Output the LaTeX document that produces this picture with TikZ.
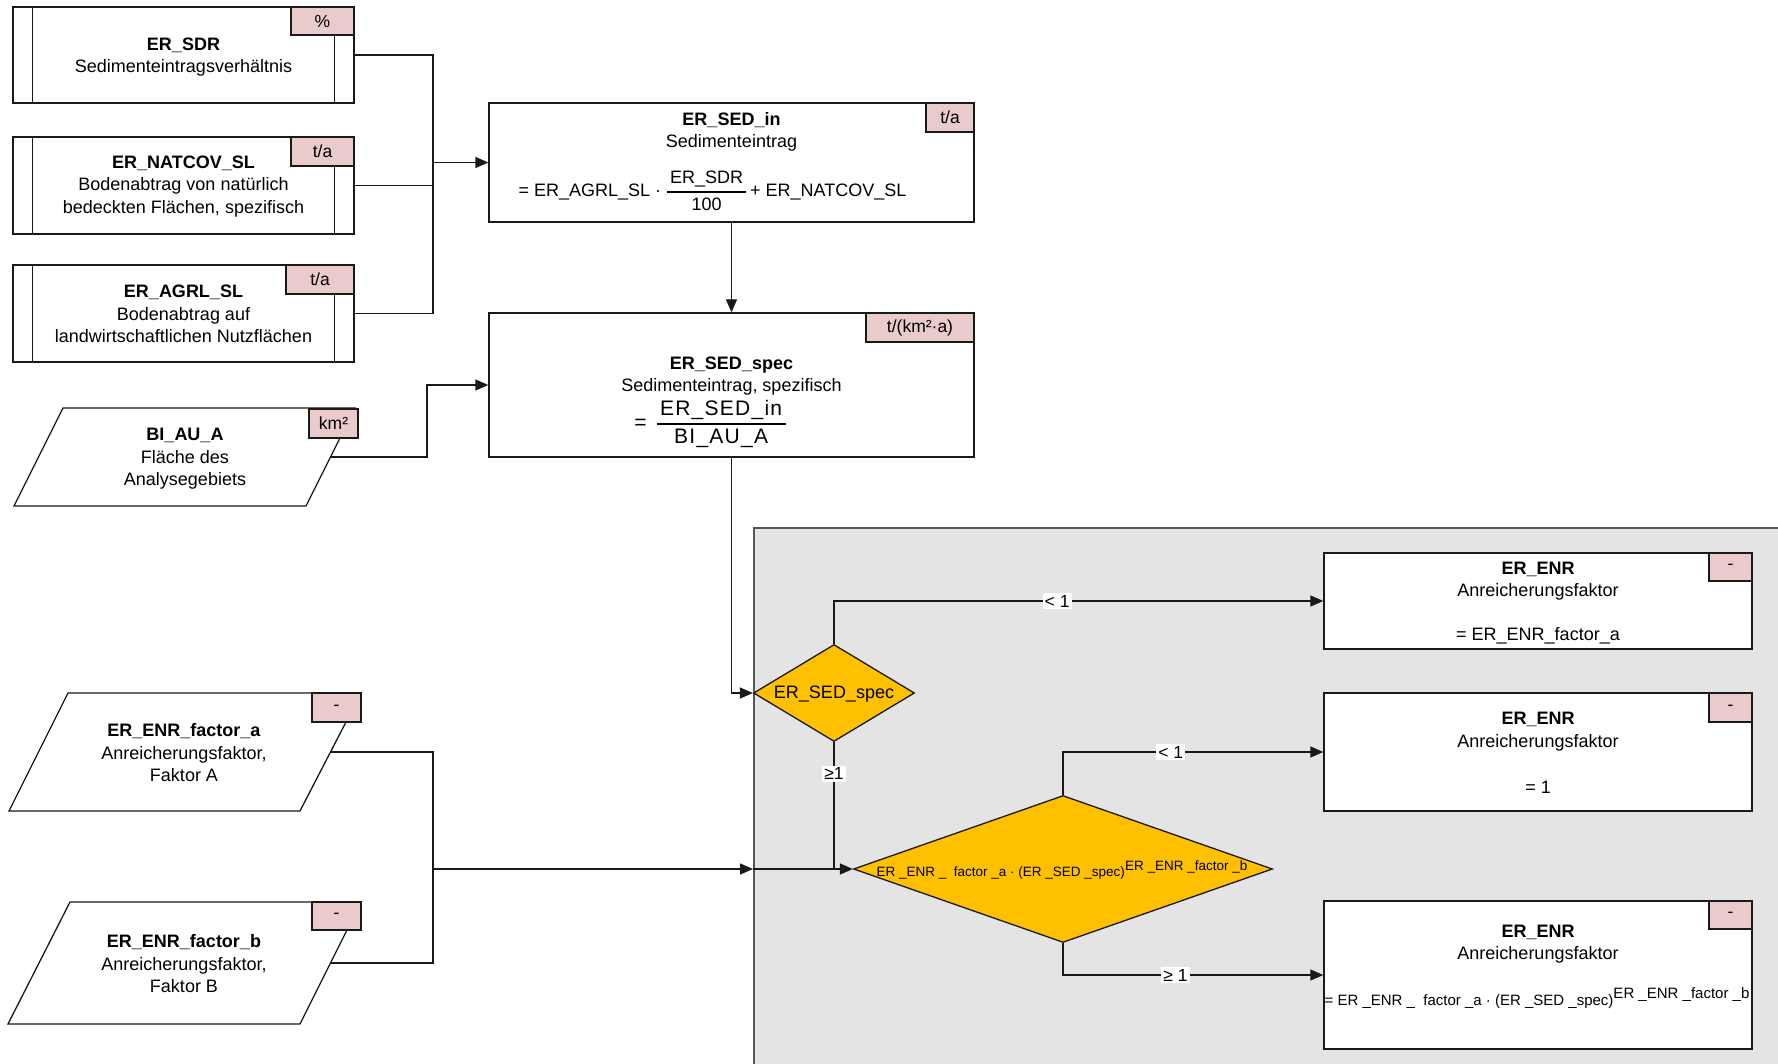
\documentclass[tikz,border=0pt]{standalone}
\usepackage{fontspec}
\setmainfont{Liberation Sans}
\usetikzlibrary{shapes.geometric,arrows.meta}
\definecolor{unitpink}{RGB}{233,203,203}
\definecolor{dorange}{RGB}{255,192,0}
\definecolor{grpfill}{RGB}{228,228,228}
\definecolor{grpline}{RGB}{85,85,85}
\definecolor{lin}{RGB}{25,25,25}
\newcommand\mainsize{\fontsize{18}{22.5}\selectfont}
\newcommand\enrform{ER \_ENR \_\ \ factor \_a · (ER \_SED \_spec)\raisebox{0.42em}{ER \_ENR \_factor \_b}}
\newcommand\myfrac[2]{{\renewcommand\arraystretch{1.25}\setlength\arrayrulewidth{1.2pt}\begin{tabular}{@{\,}c@{\,}}#1\\\hline #2\end{tabular}}}
\tikzset{
 box/.style={draw=lin, line width=1.3pt, fill=white, rectangle, inner sep=0pt},
 unitbox/.style={draw=lin, line width=1.3pt, fill=unitpink, rectangle, inner sep=0pt, anchor=north east, font=\fontsize{17.5}{20}\selectfont},
 txt/.style={align=center, font=\mainsize, inner sep=0pt},
 con/.style={draw=lin, line width=1.3pt},
 arr/.style={con, -{Triangle[length=13pt,width=11pt]}},
 lbl/.style={fill=white, inner sep=2pt, font=\fontsize{17.5}{20}\selectfont},
 dia/.style={diamond, draw=lin, line width=1.3pt, fill=dorange, inner sep=0pt},
 para/.style={draw=lin, line width=1.3pt, fill=white, line join=miter},
}
\begin{document}
\begin{tikzpicture}[x=1pt,y=-1pt]
\useasboundingbox (0,0) rectangle (1778,1064);
% group background
\node[draw=grpline, fill=grpfill, line width=2pt, rectangle, inner sep=0pt, anchor=north west, minimum width=1040pt, minimum height=545pt] (grp) at (753,527) {};

% sub-process boxes on the left
\node[box, minimum width=341pt, minimum height=96pt] (sdr) at (183.5,55) {};
\node[unitbox, minimum width=63pt, minimum height=28pt] (sdru) at (sdr.north east) {\%};
\draw[con] ([xshift=20pt]sdr.north west) -- ([xshift=20pt]sdr.south west);
\draw[con] ([xshift=-20pt]sdr.south east) -- ([xshift=-20pt]sdr.south east |- sdru.south);
\node[txt] (sdrt) at (183.5,57) {\textbf{ER\_SDR}\\Sedimenteintragsverhältnis};

\node[box, minimum width=341pt, minimum height=97pt] (natcov) at (183.5,185.5) {};
\node[unitbox, minimum width=63pt, minimum height=29pt] (natcovu) at (natcov.north east) {t/a};
\draw[con] ([xshift=20pt]natcov.north west) -- ([xshift=20pt]natcov.south west);
\draw[con] ([xshift=-20pt]natcov.south east) -- ([xshift=-20pt]natcov.south east |- natcovu.south);
\node[txt] (natcovt) at (183.5,186.5) {\textbf{ER\_NATCOV\_SL}\\Bodenabtrag von natürlich\\bedeckten Flächen, spezifisch};

\node[box, minimum width=341pt, minimum height=97pt] (agrl) at (183.5,313.5) {};
\node[unitbox, minimum width=68pt, minimum height=29pt] (agrlu) at (agrl.north east) {t/a};
\draw[con] ([xshift=20pt]agrl.north west) -- ([xshift=20pt]agrl.south west);
\draw[con] ([xshift=-20pt]agrl.south east) -- ([xshift=-20pt]agrl.south east |- agrlu.south);
\node[txt] (agrlt) at (183.5,314) {\textbf{ER\_AGRL\_SL}\\Bodenabtrag auf\\landwirtschaftlichen Nutzflächen};

% parallelograms
\draw[para] (63,408) -- (355,408) -- (306,506) -- (14,506) -- cycle;
\node[unitbox, anchor=center, minimum width=49pt, minimum height=29pt] (biauu) at (333.5,423.5) {km²};
\node[txt] (biaut) at (185,459) {\textbf{BI\_AU\_A}\\Fläche des\\Analysegebiets};
\coordinate (biaux) at (330.5,457);

\draw[para] (68,693) -- (361,693) -- (300,811) -- (9,811) -- cycle;
\node[unitbox, anchor=center, minimum width=49pt, minimum height=29pt] (fau) at (336.5,707.5) {-};
\node[txt] (fat) at (184,753) {\textbf{ER\_ENR\_factor\_a}\\Anreicherungsfaktor,\\Faktor A};
\coordinate (fax) at (330.5,752);

\draw[para] (70,902) -- (361,902) -- (300,1024) -- (8,1024) -- cycle;
\node[unitbox, anchor=center, minimum width=49pt, minimum height=28pt] (fbu) at (336.5,916) {-};
\node[txt] (fbt) at (184,964) {\textbf{ER\_ENR\_factor\_b}\\Anreicherungsfaktor,\\Faktor B};
\coordinate (fbx) at (330.5,963);

% ER_SED_in
\node[box, minimum width=485pt, minimum height=119pt] (sedin) at (731.5,162.5) {};
\node[unitbox, minimum width=48pt, minimum height=29pt] (sedinu) at (sedin.north east) {t/a};
\node[txt] (sedint) at (731.5,132) {\textbf{ER\_SED\_in}\\Sedimenteintrag};
\node[txt, font=\fontsize{18}{20}\selectfont] (sedinf) at (712.5,192) {= ER\_AGRL\_SL ·\hspace{6pt}\myfrac{ER\_SDR}{100}\hspace{4pt}+ ER\_NATCOV\_SL};

% ER_SED_spec
\node[box, minimum width=485pt, minimum height=144pt] (sedspec) at (731.5,385) {};
\node[unitbox, minimum width=108pt, minimum height=29pt] (sedspecu) at (sedspec.north east) {t/(km²·a)};
\node[txt] (sedspect) at (731.5,376) {\textbf{ER\_SED\_spec}\\Sedimenteintrag, spezifisch};
\node[txt, font=\fontsize{21}{22}\selectfont] (sedspecf) at (710,424) {=\hspace{10pt}{\addfontfeatures{LetterSpace=6}\myfrac{ER\_SED\_in}{BI\_AU\_A}}};

% decisions
\node[dia, minimum width=161pt, minimum height=97pt] (d1) at (834,693) {};
\node[txt] (d1t) at (834,694) {ER\_SED\_spec};
\node[dia, minimum width=419pt, minimum height=147pt] (d2) at (1063,869) {};
\node[txt, font=\fontsize{13.5}{16}\selectfont] (d2t) at (1062,870) {\enrform};

% ER_ENR results
\node[box, minimum width=428pt, minimum height=96pt] (enr1) at (1538,601) {};
\node[unitbox, minimum width=43pt, minimum height=28pt] (enr1u) at (enr1.north east) {-};
\node[txt] (enr1t) at (1538,581) {\textbf{ER\_ENR}\\Anreicherungsfaktor};
\node[txt] (enr1f) at (1538,636) {= ER\_ENR\_factor\_a};

\node[box, minimum width=428pt, minimum height=118pt] (enr2) at (1538,752) {};
\node[unitbox, minimum width=43pt, minimum height=29pt] (enr2u) at (enr2.north east) {-};
\node[txt] (enr2t) at (1538,731.5) {\textbf{ER\_ENR}\\Anreicherungsfaktor};
\node[txt] (enr2f) at (1538,787) {= 1};

\node[box, minimum width=428pt, minimum height=148pt] (enr3) at (1538,975) {};
\node[unitbox, minimum width=43pt, minimum height=28pt] (enr3u) at (enr3.north east) {-};
\node[txt] (enr3t) at (1538,944) {\textbf{ER\_ENR}\\Anreicherungsfaktor};
\node[txt, font=\fontsize{15}{18}\selectfont] (enr3f) at (1537,998) {= \enrform};

% connectors
\coordinate (j1) at (433,162.5);
\draw[con] (sdr.east) -| (j1);
\draw[con] (natcov.east) -| (j1);
\draw[con] (agrl.east) -| (j1);
\draw[arr] (j1) -- (sedin.west);
\draw[arr] (sedin.south) -- (sedspec.north);
\coordinate (j2) at (427,457);
\draw[arr] (biaux) -- (j2) |- (sedspec.west);
\draw[arr] (sedspec.south) |- (d1.west);
\draw[arr] (d1.north) |- node[lbl, pos=0.728] (l1) {< 1} (enr1.west);
\draw[con] (d1.south) -- node[lbl, pos=0.25] (l2) {≥1} (d1.south |- d2.west);
\coordinate (j3) at (433,869);
\coordinate (gin) at (753,869);
\draw[con] (fax) -| (j3);
\draw[con] (fbx) -| (j3);
\draw[arr] (j3) -- (gin);
\draw[arr] (gin) -- (d2.west);
\draw[arr] (d2.north) |- node[lbl, pos=0.707] (l3) {< 1} (enr2.west);
\draw[arr] (d2.south) |- node[lbl, pos=0.716] (l4) {≥ 1} (enr3.west);
\end{tikzpicture}
\end{document}
